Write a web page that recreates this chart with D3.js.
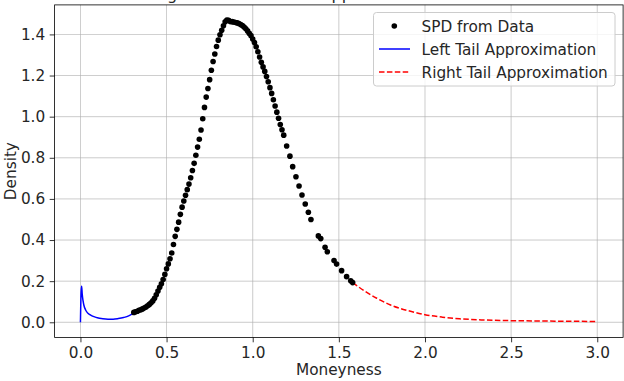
<!DOCTYPE html>
<html><head><meta charset="utf-8">
<script src="https://cdn.jsdelivr.net/npm/d3@7"></script>
<style>html,body{margin:0;padding:0;background:#fff;}svg{display:block;font-family:"DejaVu Sans",sans-serif;}</style>
</head><body>
<svg id="c" width="624" height="381"></svg>
<script>
const titleText = "Estimating the SPD with Tail Approximations";
const xLabel = "Moneyness";
const yLabel = "Density";
const xTicks = [0.0, 0.5, 1.0, 1.5, 2.0, 2.5, 3.0];
const yTicks = [0.0, 0.2, 0.4, 0.6, 0.8, 1.0, 1.2, 1.4];
const legendLabels = ["SPD from Data", "Left Tail Approximation", "Right Tail Approximation"];

const spdX = [0.31,0.32,0.33,0.34,0.35,0.36,0.37,0.38,0.39,0.40,0.41,0.42,0.43,0.44,0.45,0.46,0.47,0.48,0.49,0.50,
  0.51,0.52,0.53,0.54,0.55,0.56,0.57,0.58,0.59,0.60,0.61,0.62,0.63,0.64,0.65,0.66,0.67,0.68,0.69,0.70,
  0.71,0.72,0.73,0.74,0.75,0.76,0.77,0.78,0.79,0.80,0.81,0.82,0.83,0.84,0.85,0.86,0.87,0.88,0.89,0.90,
  0.91,0.92,0.93,0.94,0.95,0.96,0.97,0.98,0.99,1.00,1.01,1.02,1.03,1.04,1.05,1.06,1.07,1.08,1.09,1.10,
  1.11,1.12,1.13,1.14,1.15,1.16,1.17,1.18,1.197,1.216,1.232,1.251,1.269,1.286,1.305,1.323,1.338,1.381,1.395,1.42,
  1.433,1.472,1.487,1.516,1.545,1.569,1.58];
const spdY = [0.048,0.051,0.054,0.058,0.061,0.065,0.069,0.074,0.080,0.087,0.095,0.104,0.117,0.134,0.152,0.170,0.187,0.208,0.233,0.260,
  0.284,0.309,0.337,0.378,0.418,0.452,0.487,0.525,0.560,0.590,0.618,0.645,0.672,0.703,0.738,0.773,0.812,0.852,0.890,0.935,
  0.990,1.045,1.095,1.137,1.180,1.226,1.268,1.305,1.341,1.372,1.398,1.420,1.442,1.461,1.470,1.468,1.463,1.462,1.460,1.458,
  1.456,1.453,1.448,1.443,1.436,1.427,1.417,1.405,1.394,1.378,1.361,1.340,1.316,1.290,1.264,1.242,1.220,1.195,1.170,1.141,
  1.113,1.082,1.052,1.022,0.992,0.962,0.936,0.910,0.857,0.808,0.757,0.708,0.663,0.619,0.575,0.535,0.500,0.420,0.407,0.365,
  0.343,0.300,0.283,0.251,0.222,0.202,0.193];

const leftX = [0.000,0.004,0.007,0.010,0.015,0.020,0.030,0.040,0.055,0.070,0.090,0.110,0.130,0.160,0.190,0.220,0.250,0.280,0.307];
const leftY = [0.000,0.150,0.175,0.140,0.105,0.083,0.060,0.047,0.037,0.030,0.024,0.020,0.017,0.015,0.015,0.018,0.023,0.031,0.045];

const rightX = [1.58,1.65,1.72,1.80,1.90,2.00,2.10,2.20,2.35,2.50,2.70,3.00];
const rightY = [0.193,0.152,0.117,0.084,0.057,0.037,0.025,0.017,0.011,0.008,0.006,0.004];

const svg = d3.select("#c");
const L = 54.6, R = 623.1, T = 4.9, B = 337.4;
const x = d3.scaleLinear().domain([-0.15, 3.15]).range([L, R]);
const y = d3.scaleLinear().domain([-0.0735, 1.5435]).range([B, T]);
const fs = 15.3;

// grid
const g = svg.append("g");
g.selectAll(".gx").data(xTicks).enter().append("line")
  .attr("x1", d => x(d)).attr("x2", d => x(d)).attr("y1", T).attr("y2", B)
  .attr("stroke", "#b0b0b0").attr("stroke-width", 0.8).attr("opacity", 0.8);
g.selectAll(".gy").data(yTicks).enter().append("line")
  .attr("y1", d => y(d)).attr("y2", d => y(d)).attr("x1", L).attr("x2", R)
  .attr("stroke", "#b0b0b0").attr("stroke-width", 0.8).attr("opacity", 0.8);

// clip
svg.append("clipPath").attr("id", "clip").append("rect")
  .attr("x", L).attr("y", T).attr("width", R - L).attr("height", B - T);
const plot = svg.append("g").attr("clip-path", "url(#clip)");

const line = d3.line().x(d => x(d[0])).y(d => y(d[1]));
plot.append("path").datum(leftX.map((v, i) => [v, leftY[i]]))
  .attr("d", line.curve(d3.curveMonotoneX)).attr("fill", "none")
  .attr("stroke", "#0000ff").attr("stroke-width", 1.5);
plot.append("path").datum(rightX.map((v, i) => [v, rightY[i]]))
  .attr("d", d3.line().x(d => x(d[0])).y(d => y(d[1])).curve(d3.curveMonotoneX)).attr("fill", "none")
  .attr("stroke", "#ff0000").attr("stroke-width", 1.5).attr("stroke-dasharray", "5.5,2.4");
plot.selectAll(".dot").data(spdX.map((v, i) => [v, spdY[i]])).enter().append("circle")
  .attr("cx", d => x(d[0])).attr("cy", d => y(d[1])).attr("r", 2.8).attr("fill", "#000");

// axes
const xAxis = d3.axisBottom(x).tickValues(xTicks).tickFormat(d3.format(".1f")).tickSize(4.9).tickPadding(4.5);
const yAxis = d3.axisLeft(y).tickValues(yTicks).tickFormat(d3.format(".1f")).tickSize(4.9).tickPadding(4.5);
const gx = svg.append("g").attr("transform", `translate(0,${B})`).call(xAxis);
const gy = svg.append("g").attr("transform", `translate(${L},0)`).call(yAxis);
[gx, gy].forEach(a => {
  a.select(".domain").remove();
  a.selectAll("line").attr("stroke", "#000").attr("stroke-width", 0.8);
  a.selectAll("text").attr("font-size", fs).attr("fill", "#262626").attr("font-family", "DejaVu Sans");
});

// spines
svg.append("rect").attr("x", L).attr("y", T).attr("width", R - L).attr("height", B - T)
  .attr("fill", "none").attr("stroke", "#000").attr("stroke-width", 0.8);

// labels
svg.append("text").attr("x", (L + R) / 2).attr("y", 375).attr("text-anchor", "middle")
  .attr("font-size", fs).attr("fill", "#262626").text(xLabel);
svg.append("text").attr("transform", `translate(16,${(T + B) / 2}) rotate(-90)`).attr("text-anchor", "middle")
  .attr("font-size", fs).attr("fill", "#262626").text(yLabel);

// title (mostly clipped above the figure, as in the reference)
const tt = svg.append("text").attr("y", 0).attr("font-size", 16).attr("fill", "#262626").text(titleText);
const node = tt.node();
const gi = titleText.indexOf("g");
const off = node.getSubStringLength(0, gi) + node.getSubStringLength(gi, 1) / 2;
tt.attr("x", 172 - off);

// legend
const lg = svg.append("g");
lg.append("rect").attr("x", 373.5).attr("y", 12.5).attr("width", 241.5).attr("height", 73.5)
  .attr("rx", 3).attr("fill", "#fff").attr("fill-opacity", 0.8).attr("stroke", "#cccccc").attr("stroke-width", 1);
const rows = [26, 49, 72];
lg.append("circle").attr("cx", 394.3).attr("cy", rows[0]).attr("r", 2.8).attr("fill", "#000");
lg.append("line").attr("x1", 379).attr("x2", 410).attr("y1", rows[1]).attr("y2", rows[1])
  .attr("stroke", "#0000ff").attr("stroke-width", 1.5);
lg.append("line").attr("x1", 379).attr("x2", 410).attr("y1", rows[2]).attr("y2", rows[2])
  .attr("stroke", "#ff0000").attr("stroke-width", 1.5).attr("stroke-dasharray", "5.5,2.4");
lg.selectAll(".lt").data(legendLabels).enter().append("text")
  .attr("x", 421.5).attr("y", (d, i) => rows[i]).attr("dy", "0.36em")
  .attr("font-size", fs).attr("fill", "#262626").text(d => d);
</script>
</body></html>
